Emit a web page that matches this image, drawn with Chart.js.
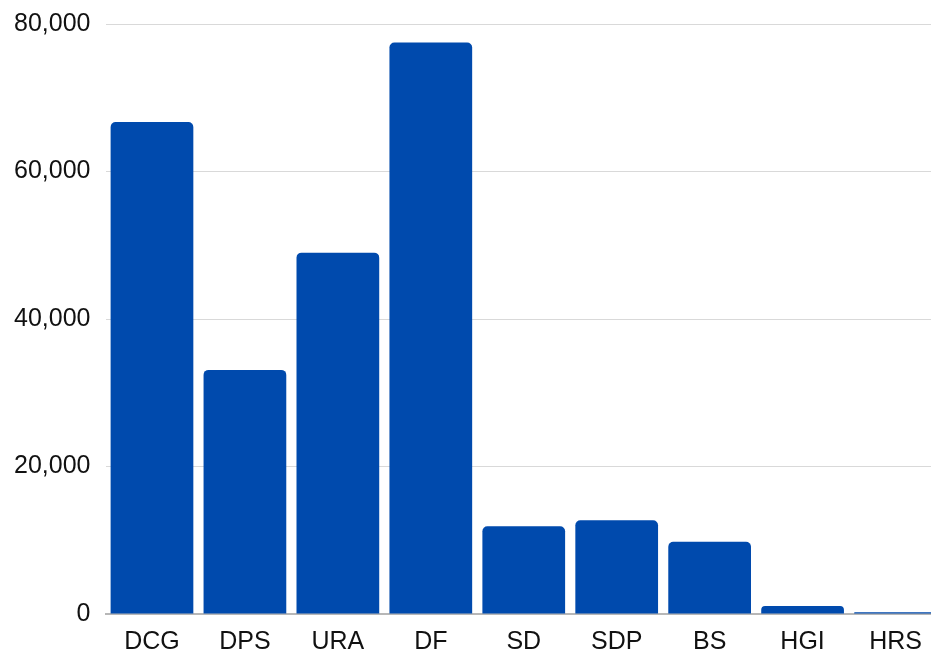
<!DOCTYPE html>
<html>
<head>
<meta charset="utf-8">
<script src="https://cdn.jsdelivr.net/npm/chart.js@4"></script>
<style>
  html, body { margin: 0; padding: 0; background: #fff; overflow: hidden; }
  #bar-chart { display: block; margin-top: -6px; }
</style>
</head>
<body>
<canvas id="bar-chart" width="942" height="657"></canvas>
<script>
// categories and values
var categories = ["DCG", "DPS", "URA", "DF", "SD", "SDP", "BS", "HGI", "HRS"];
var values = [66700, 33100, 49000, 77500, 11900, 12700, 9800, 1100, 250];
var yTicks = [0, 20000, 40000, 60000, 80000];

new Chart(document.getElementById("bar-chart"), {
    type: 'bar',
    data: {
        labels: categories,
        datasets: [
            {
                label: "Value",
                backgroundColor: "#004aad",
                borderRadius: { topLeft: 5, topRight: 5 },
                borderSkipped: 'bottom',
                categoryPercentage: 1.0,
                barPercentage: 0.89,
                data: values
            }
        ]
    },
    options: {
        responsive: false,
        animation: false,
        layout: { padding: { top: 19, left: 0, right: 0, bottom: 0 } },
        plugins: {
            legend: { display: false },
            title: { display: false },
            tooltip: { enabled: false }
        },
        scales: {
            x: {
                grid: { display: false, drawTicks: false },
                border: { display: true, color: '#b7b7b7', width: 2 },
                ticks: {
                    color: '#111',
                    padding: 13,
                    font: { family: 'Liberation Sans, Arial, sans-serif', size: 25 }
                },
                afterFit: function (scale) { scale.height = 37; }
            },
            y: {
                min: yTicks[0],
                max: yTicks[yTicks.length - 1],
                afterBuildTicks: function (scale) {
                    scale.ticks = yTicks.map(function (v) { return { value: v }; });
                },
                grid: { color: '#d9d9d9', drawTicks: false },
                border: { display: false },
                ticks: {
                    color: '#111',
                    padding: 15,
                    font: { family: 'Liberation Sans, Arial, sans-serif', size: 25 },
                    callback: function (v) { return v.toLocaleString('en-US'); }
                },
                afterFit: function (scale) { scale.width = 105.5; }
            }
        }
    }
});
</script>
</body>
</html>
